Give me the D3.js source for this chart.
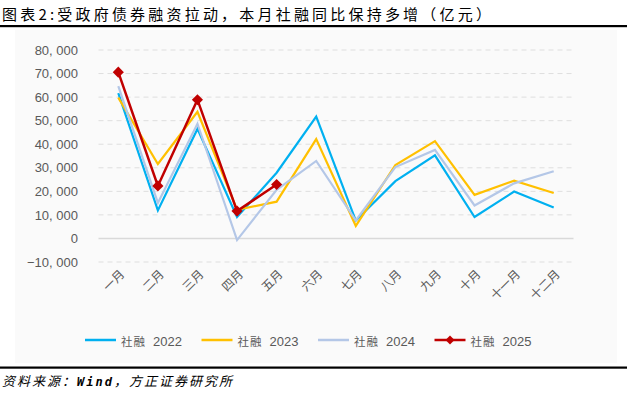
<!DOCTYPE html>
<html>
<head>
<meta charset="utf-8">
<script src="https://cdn.jsdelivr.net/npm/d3@7"></script>
<style>
  body { margin: 0; background: #fff; }
  text { font-family: "Liberation Sans", "Noto Sans CJK SC", sans-serif; }
</style>
</head>
<body>
<svg id="chart" width="627" height="394"></svg>
<script>
// 数据（亿元）
var months = ['一月','二月','三月','四月','五月','六月','七月','八月','九月','十月','十一月','十二月'];
var v2022 = [61700, 11900, 46500, 9100, 27900, 51700, 7600, 24300, 35300, 9100, 19900, 13100];
var v2023 = [59800, 31600, 53800, 12200, 15600, 42200, 5300, 31200, 41300, 18500, 24500, 19300];
var v2024 = [64700, 15100, 48700, -700, 20600, 32900, 7700, 30300, 37600, 14000, 23400, 28500];
var v2025 = [70600, 22300, 58900, 11600, 22900];
var yTicks = [-10000, 0, 10000, 20000, 30000, 40000, 50000, 60000, 70000, 80000];
var seriesNames = ['社融 2022', '社融 2023', '社融 2024', '社融 2025'];
var colors = ['#00B0F0', '#FFC000', '#B4C7E7', '#C00000'];

var svg = d3.select('#chart');

// 背景
svg.append('rect').attr('x', 15).attr('y', 30).attr('width', 602).attr('height', 333)
  .attr('fill', '#fafafa');

// 标题
svg.append('text').attr('x', 2).attr('y', 20)
  .style('font-family', '"Noto Sans CJK SC"').style('font-size', '15px')
  .style('letter-spacing', '3.2px').attr('fill', '#000')
  .text('图表2:受政府债券融资拉动，本月社融同比保持多增（亿元）');
svg.append('rect').attr('x', 0).attr('y', 25).attr('width', 627).attr('height', 2.2).attr('fill', '#000');

// 脚注
svg.append('rect').attr('x', 0).attr('y', 366.5).attr('width', 627).attr('height', 2.2).attr('fill', '#000');
var foot = svg.append('text').attr('x', 2).attr('y', 386)
  .style('font-family', '"Noto Sans CJK SC"').style('font-size', '13px')
  .style('font-style', 'italic').style('letter-spacing', '2px').attr('fill', '#000');
foot.append('tspan').text('资料来源：');
foot.append('tspan').style('font-family', '"DejaVu Sans Mono"').style('font-weight', 'bold').style('font-size', '12px').text('Wind');
foot.append('tspan').text('，方正证券研究所');

// 坐标
var x = d3.scaleBand().domain(months).range([98.5, 573.5]);
var y = d3.scaleLinear().domain([-10000, 80000]).range([262, 50]);
var cx = function (i) { return x(months[i]) + x.bandwidth() / 2; };

// 网格
svg.append('g').selectAll('line').data(yTicks).enter().append('line')
  .attr('x1', 98.5).attr('x2', 573.5)
  .attr('y1', function (d) { return y(d); }).attr('y2', function (d) { return y(d); })
  .attr('stroke', function (d) { return d === 0 ? '#d9d9d9' : '#dedede'; })
  .attr('stroke-width', function (d) { return d === 0 ? 1.5 : 1; })
  .attr('stroke-dasharray', function (d) { return d === 0 ? null : '5,4'; });

// y轴
var fmt = d3.format(',');
var yAxis = svg.append('g').attr('transform', 'translate(88,0)')
  .call(d3.axisLeft(y).tickValues(yTicks).tickSize(0).tickPadding(10)
    .tickFormat(function (d) { return fmt(d).replace(',', ', '); }));
yAxis.select('.domain').remove();
yAxis.selectAll('text').style('font-size', '13px').attr('fill', '#595959');

// x轴标签
svg.append('g').selectAll('text').data(months).enter().append('text')
  .attr('transform', function (d, i) { return 'translate(' + (cx(i) + 4) + ',272) rotate(-45)'; })
  .attr('text-anchor', 'end').attr('dy', '0.35em')
  .style('font-family', '"Noto Sans CJK SC"').style('font-size', '12px').attr('fill', '#595959')
  .text(function (d) { return d; });

// 折线
var line = d3.line().x(function (d, i) { return cx(i); }).y(function (d) { return y(d); });
[v2022, v2023, v2024, v2025].forEach(function (s, k) {
  svg.append('path').datum(s).attr('d', line).attr('fill', 'none')
    .attr('stroke', colors[k]).attr('stroke-width', k === 3 ? 2.5 : 2.2)
    .attr('stroke-linejoin', 'miter');
});
var diamond = d3.symbol().type(d3.symbolSquare).size(62);
svg.append('g').selectAll('path').data(v2025).enter().append('path')
  .attr('d', diamond)
  .attr('transform', function (d, i) { return 'translate(' + cx(i) + ',' + y(d) + ') rotate(45)'; })
  .attr('fill', colors[3]);

// 图例
var lg = svg.append('g').selectAll('g').data(seriesNames).enter().append('g')
  .attr('transform', function (d, i) { return 'translate(' + (85 + i * 116.5) + ',340)'; });
lg.append('line').attr('x1', 0).attr('x2', 31).attr('y1', 0).attr('y2', 0)
  .attr('stroke', function (d, i) { return colors[i]; }).attr('stroke-width', 2.5);
lg.filter(function (d, i) { return i === 3; }).append('path')
  .attr('d', d3.symbol().type(d3.symbolSquare).size(40)).attr('transform', 'translate(15.5,0) rotate(45)')
  .attr('fill', colors[3]);
var lt = lg.append('text').attr('x', 36).attr('dy', '0.35em').attr('fill', '#595959');
lt.append('tspan').style('font-family', '"Noto Sans CJK SC"').style('font-size', '11.5px')
  .style('letter-spacing', '1px').text(function (d) { return d.split(' ')[0]; });
lt.append('tspan').attr('dx', 7).style('font-size', '13px').text(function (d) { return d.split(' ')[1]; });
</script>
</body>
</html>
